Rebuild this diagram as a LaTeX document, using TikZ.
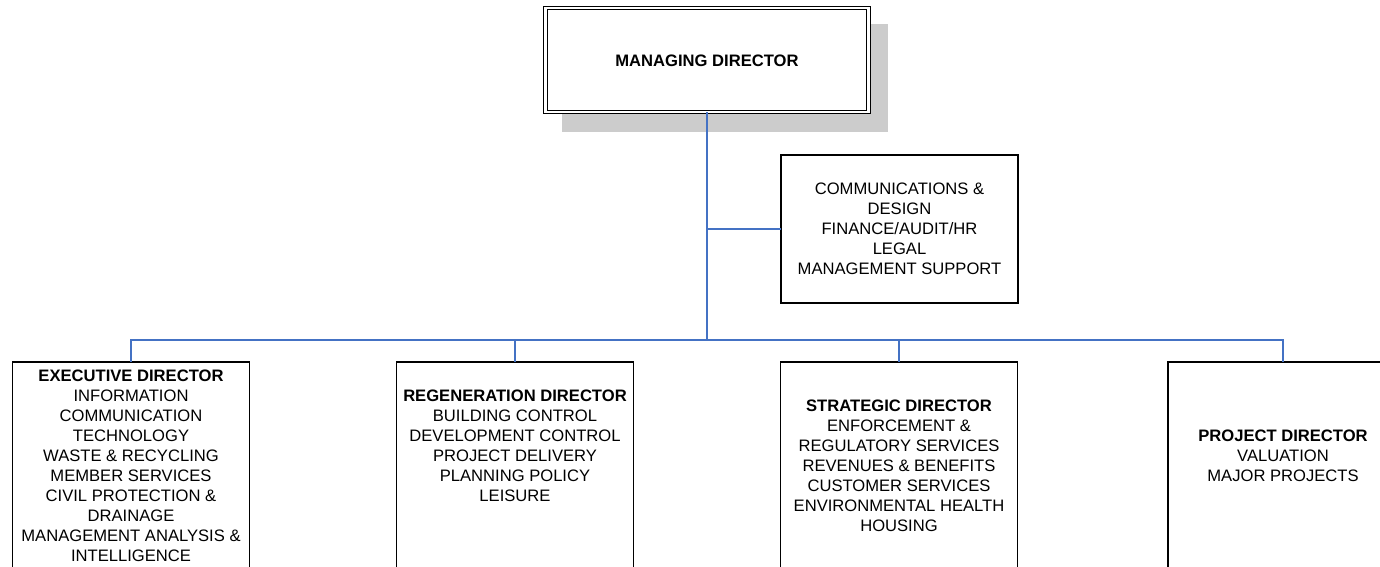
\documentclass[tikz,border=0pt]{standalone}
\usepackage{fontspec}
\setmainfont{Liberation Sans}
\begin{document}
\begin{tikzpicture}[x=1pt,y=-1pt,
  box/.style={draw=black,line width=1.2pt,fill=white,inner sep=0pt,outer sep=0pt},
  txt/.style={align=center,inner sep=0pt,font=\fontsize{16.6}{20}\selectfont}]
\tikzset{link/.style={draw={rgb,255:red,68;green,114;blue,196},line width=1.5pt}}
\useasboundingbox (0,0) rectangle (1380,566);
\clip (0,0) rectangle (1380,566);
% shadow of the top box
\fill[gray!40] (562,24) rectangle (888,132);
% top box
\node[box,double,double distance=2.2pt,line width=1pt,minimum width=323pt,minimum height=104pt] (md) at (707,60) {};
\node[txt] (mdt) at (707,61) {\textbf{MANAGING DIRECTOR}};
% staff box
\node[box,minimum width=237pt,minimum height=148pt] (comms) at (899.5,229) {};
\node[txt] (commst) at (899.5,229) {COMMUNICATIONS \&\\DESIGN\\FINANCE/AUDIT/HR\\LEGAL\\MANAGEMENT SUPPORT};
% directors
\node[box,minimum width=237pt,minimum height=238pt] (exec) at (131,481) {};
\node[box,minimum width=237pt,minimum height=238pt] (regen) at (515,481) {};
\node[box,minimum width=237pt,minimum height=238pt] (strat) at (899,481) {};
\node[box,minimum width=230pt,minimum height=238pt] (proj) at (1283,481) {};
\node[txt] (exect) at (131,466) {\textbf{EXECUTIVE DIRECTOR}\\INFORMATION\\COMMUNICATION\\TECHNOLOGY\\WASTE \& RECYCLING\\MEMBER SERVICES\\CIVIL PROTECTION \&\\DRAINAGE\\MANAGEMENT ANALYSIS \&\\INTELLIGENCE};
\node[txt] (regent) at (515,446) {\textbf{REGENERATION DIRECTOR}\\BUILDING CONTROL\\DEVELOPMENT CONTROL\\PROJECT DELIVERY\\PLANNING POLICY\\LEISURE};
\node[txt] (stratt) at (899,466) {\textbf{STRATEGIC DIRECTOR}\\ENFORCEMENT \&\\REGULATORY SERVICES\\REVENUES \& BENEFITS\\CUSTOMER SERVICES\\ENVIRONMENTAL HEALTH\\HOUSING};
\node[txt] (projt) at (1283,456) {\textbf{PROJECT DIRECTOR}\\VALUATION\\MAJOR PROJECTS};
% connectors
\coordinate (bus) at (707,340);
\draw[link] (md.south) -- (bus);
\draw[link] (md.south |- comms.west) -- (comms.west);
\draw[link] (bus) -| (exec.north);
\draw[link] (bus) -| (regen.north);
\draw[link] (bus) -| (strat.north);
\draw[link] (bus) -| (proj.north);
\end{tikzpicture}
\end{document}
